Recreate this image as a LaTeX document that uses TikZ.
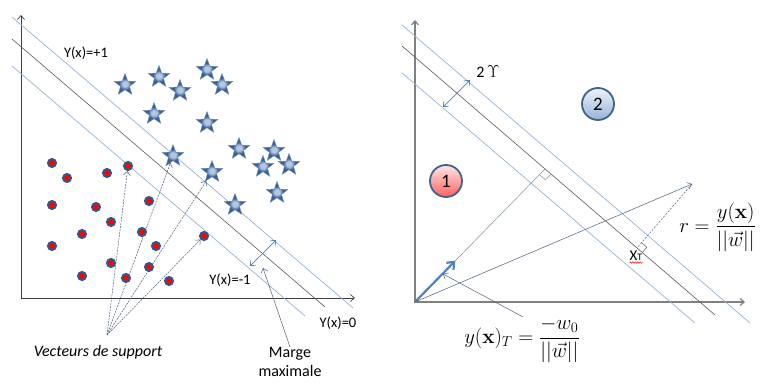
\documentclass[tikz,border=0pt]{standalone}
\usepackage{amsmath}
\usepackage[no-math]{fontspec}
\setmainfont{Carlito}
\usetikzlibrary{arrows.meta,shapes.geometric,calc,decorations.pathmorphing}
\definecolor{bleumarge}{HTML}{95B3D7}
\definecolor{grissep}{HTML}{595959}
\definecolor{bleufleche}{HTML}{4F81BD}
\definecolor{ardoise}{HTML}{4A5F7E}
\definecolor{etoilefonce}{HTML}{3A6096}
\definecolor{etoileclair}{HTML}{B4C8E4}
\definecolor{pointbord}{HTML}{34588A}
\definecolor{cerclebord}{HTML}{3F638F}
\pgfdeclareradialshading{etoilelueur}{\pgfpoint{0bp}{0bp}}{color(0bp)=(etoileclair); color(6bp)=(etoileclair); color(14bp)=(etoilefonce); color(50bp)=(etoilefonce)}

\begin{document}
\begin{tikzpicture}[x=1pt,y=-1pt,line width=.5pt,
  >={Straight Barb[length=4pt,width=7pt]},
  texte/.style={font=\fontsize{14.5}{16}\selectfont,inner sep=0pt},
  formule/.style={font=\fontsize{21}{24}\selectfont,inner sep=0pt},
  marge/.style={bleumarge,line width=.7pt},
  separateur/.style={grissep,line width=.6pt},
  renvoi/.style={ardoise,line width=.5pt,->},
  etoile/.style={star,star points=5,star point ratio=2.4,minimum size=23pt,inner sep=0pt,
    shading=etoilelueur,draw=etoileclair!45!etoilefonce,line width=.4pt},
  point/.style={circle,fill=red,draw=pointbord,line width=2pt,minimum size=8pt,inner sep=0pt},
  cercle/.style={circle,draw=cerclebord,line width=1.8pt,minimum size=32pt,inner sep=0pt,
    font=\fontsize{19}{19}\selectfont}]
\useasboundingbox (0,0) rectangle (762,385);

% panneau de gauche : les deux classes
\draw[grissep!70!black,line width=.7pt,<->] (21,15) |- (355,298);
\coordinate (supA) at (12,17);  \coordinate (supB) at (353,308);
\coordinate (sepA) at (12,39);  \coordinate (sepB) at (325,307);
\coordinate (infA) at (12,66);  \coordinate (infB) at (305,316);
\draw[marge] (supA) -- (supB);
\draw[separateur] (sepA) -- (sepB);
\draw[marge] (infA) -- (infB);

\foreach \x/\y [count=\i] in {125/85,159/77,180/91,207/70,222/85,154/114,207/123,173/156,
    239/149,274/151,263/167,289/165,212/172,277/193,235/205}
  \node[etoile] (e\i) at (\x,\y) {};
\foreach \x/\y [count=\i] in {52/163,67/178,107/173,128/166,52/205,96/207,149/201,111/222,
    82/234,142/232,52/246,156/246,111/263,149/267,82/276,126/278,169/281,204/236}
  \node[point] (p\i) at (\x,\y) {};

\node[texte] (yplus) at (86,53) {Y(x)=+1};
\node[texte] (ymoins) at (230,280) {Y(x)=-1};
\node[texte] (yzero) at (338,323) {Y(x)=0};

% vecteurs de support
\coordinate (sv) at (107,335);
\node[texte,font=\fontsize{16}{18}\selectfont\itshape] (vs) at (98,352) {Vecteurs de support};
\foreach \c in {p4,e8,e13,p18}
  \draw[renvoi,dash pattern=on 2pt off 1pt] (sv) -- (\c);

% marge maximale
\coordinate (ma) at (250,266); \coordinate (mb) at (276,240);
\draw[bleufleche,line width=.7pt,<->] (ma) -- (mb);
\node[texte,font=\fontsize{16}{19}\selectfont,align=center,anchor=north] (mm) at (290,347) {Marge\\maximale};
\coordinate (mt) at (263,268);
\draw[renvoi] (mm.north) -- (mt);

% panneau de droite : distance a l'hyperplan
\coordinate (O) at (415,302);
\draw[gray,line width=1.2pt,<->] (415,20) |- (745,302);
\coordinate (supC) at (402,25);  \coordinate (supD) at (750,323);
\coordinate (sepC) at (402,46);  \coordinate (sepD) at (715,315);
\coordinate (infC) at (402,73);  \coordinate (infD) at (695,323);
\draw[marge] (supC) -- (supD);
\draw[separateur] (sepC) -- (sepD);
\draw[marge] (infC) -- (infD);

\coordinate (ga) at (443,107); \coordinate (gb) at (470,80);
\draw[bleufleche,line width=.7pt,<->] (ga) -- (gb);
\node[texte,font=\fontsize{16}{18}\selectfont] (gam) at (488,72) {2\,$\Upsilon$};

\node[cercle,top color=red!10,bottom color=red!62] (c1) at (446,181) {1};
\node[cercle,top color=bleumarge!15,bottom color=bleumarge] (c2) at (598,104) {2};

% normale depuis l'origine
\coordinate (F1) at ($(sepC)!.457!(sepD)$);
\draw[ardoise!70,line width=.5pt] (O) -- (F1);
\draw[bleufleche,line width=2.2pt,-{Straight Barb[length=6pt,width=10pt]}] (O) -- ($(O)!.31!(F1)$);
\coordinate (ra1) at ($(F1)!8pt!(O)$); \coordinate (ra2) at ($(F1)!8pt!(sepD)$);
\draw[ardoise!70] (ra1) -- ($(ra1)+(ra2)-(F1)$) -- (ra2);

% point x et sa projection
\coordinate (tip) at (692,184);
\draw[ardoise,->] (O) -- (tip);
\coordinate (F2) at ($(sepC)!(tip)!(sepD)$);
\draw[ardoise,dash pattern=on 2pt off 1.5pt] (tip) -- (F2);
\coordinate (rb1) at ($(F2)!7pt!(tip)$); \coordinate (rb2) at ($(F2)!7pt!(sepD)$);
\draw[ardoise] (rb1) -- ($(rb1)+(rb2)-(F2)$) -- (rb2);
\node[texte,font=\fontsize{15}{15}\selectfont,anchor=south] (xT) at (636,261) {X\fontsize{10}{10}\selectfont T};
\draw[red,line width=.5pt,decorate,decoration={snake,amplitude=.7pt,segment length=2.5pt}]
  ([yshift=-1.5pt]xT.south west) -- ([yshift=-1.5pt]xT.south east);

\node[formule,anchor=west] (r) at (679,227) {$r = \dfrac{y(\mathbf{x})}{||\vec{w}||}$};
\node[formule] (yT) at (522,340) {$y(\mathbf{x})_T = \dfrac{-w_0}{||\vec{w}||}$};
\coordinate (ft) at (443,274);
\draw[renvoi] ([xshift=1pt]yT.north) -- (ft);
\end{tikzpicture}
\end{document}
